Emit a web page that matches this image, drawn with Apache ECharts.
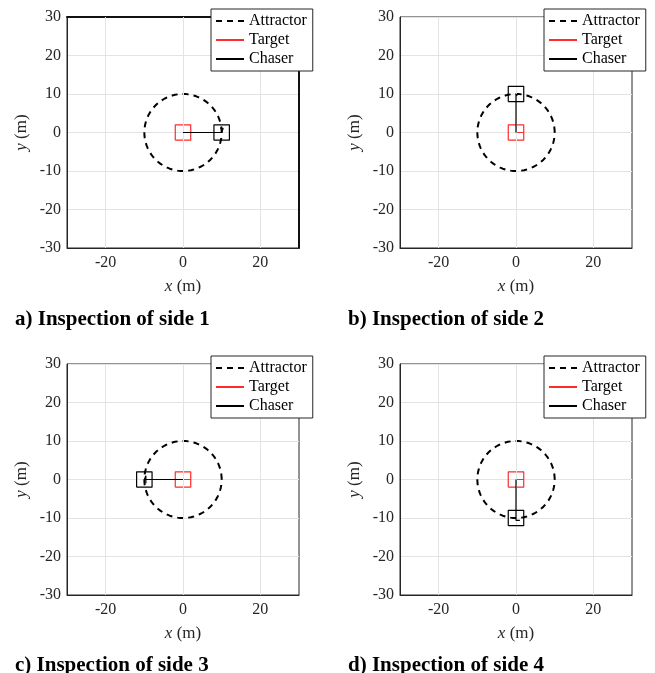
<!DOCTYPE html>
<html>
<head>
<meta charset="utf-8">
<script src="https://cdn.jsdelivr.net/npm/echarts@6/dist/echarts.min.js"></script>
<style>
  html, body { margin: 0; padding: 0; background: #fff; }
  #chart { width: 655px; height: 673px; }
</style>
</head>
<body>
<div id="chart"></div>
<script>
// Axis range and tick values (metres)
const axisMin = -30;
const axisMax = 30;
const xTickValues = [-20, 0, 20];
const yTickValues = [-30, -20, -10, 0, 10, 20, 30];

// Attractor circle radius and spacecraft body half-width (metres)
const attractorRadius = 10;
const bodyHalfWidth = 2;

// Target position and its heading marker
const targetPosition = [0, 0];
const targetHeading = [[0, 0], [2, 0]];

// Chaser hold positions, one per inspected side
const chaserPositions = [[10, 0], [0, 10], [-10, 0], [0, -10]];

// Chaser trajectories (approach from target centre out to the hold point)
const chaserPaths = [
  [[0, 0], [10, 0], [10.4, 0], [10.4, 1.1], [9.6, 1.1]],
  [[0, 0], [0, 10], [0.3, 10], [0.3, 9.5]],
  [[0, 0], [-10, 0], [-9.6, 0], [-9.6, 1], [-9.6, -1]],
  [[0, 0], [0, -10], [0, -10.6], [1, -10.6]]
];

const captions = [
  'a) Inspection of side 1',
  'b) Inspection of side 2',
  'c) Inspection of side 3',
  'd) Inspection of side 4'
];

const legendNames = ['Attractor', 'Target', 'Chaser'];

// Panel placement
const panels = [
  { left: 67, top: 17 },
  { left: 400, top: 17 },
  { left: 67, top: 364 },
  { left: 400, top: 364 }
];
const plotW = 232, plotH = 231;

function squareOutline(center, half) {
  const [cx, cy] = center;
  return [
    [cx - half, cy - half], [cx + half, cy - half],
    [cx + half, cy + half], [cx - half, cy + half],
    [cx - half, cy - half]
  ];
}

function circlePoints(r, n) {
  const pts = [];
  for (let i = 0; i <= n; i++) {
    const t = (i / n) * 2 * Math.PI;
    pts.push([r * Math.cos(t), r * Math.sin(t)]);
  }
  return pts;
}

const font = 'Liberation Serif';
const textColor = '#262626';
const targetRed = '#ff2a2a';

const grid = [], xAxis = [], yAxis = [], series = [], legend = [], graphic = [];

panels.forEach((p, i) => {
  grid.push({
    left: p.left, top: p.top, width: plotW, height: plotH,
    show: true, borderColor: '#262626', borderWidth: 1,
    backgroundColor: 'transparent', containLabel: false
  });

  xAxis.push({
    type: 'value', gridIndex: i, min: axisMin, max: axisMax, interval: 10,
    axisLine: { show: true, onZero: false, lineStyle: { color: '#262626', width: 1 } },
    axisTick: { show: false },
    splitLine: { show: false },
    axisLabel: {
      margin: 7, color: textColor, fontFamily: font, fontSize: 16,
      formatter: v => (xTickValues.indexOf(v) >= 0 ? String(v) : '')
    },
    name: '{i|x} (m)', nameLocation: 'middle', nameGap: 30,
    nameTextStyle: {
      color: textColor, fontFamily: font, fontSize: 17,
      rich: { i: { fontStyle: 'italic', fontFamily: font, fontSize: 17, color: textColor } }
    }
  });

  yAxis.push({
    type: 'value', gridIndex: i, min: axisMin, max: axisMax, interval: 10,
    axisLine: { show: true, onZero: false, lineStyle: { color: '#262626', width: 1 } },
    axisTick: { show: false },
    splitLine: { show: true, lineStyle: { color: '#e3e3e3', width: 1 } },
    axisLabel: {
      margin: 6, color: textColor, fontFamily: font, fontSize: 16,
      formatter: v => (yTickValues.indexOf(v) >= 0 ? String(v) : '')
    },
    name: '{i|y} (m)', nameLocation: 'middle', nameGap: 37, nameRotate: 90,
    nameTextStyle: {
      color: textColor, fontFamily: font, fontSize: 17,
      rich: { i: { fontStyle: 'italic', fontFamily: font, fontSize: 17, color: textColor } }
    }
  });

  // Vertical grid lines at the labelled x ticks only
  series.push({
    type: 'line', name: 'xgrid', xAxisIndex: i, yAxisIndex: i, data: [],
    silent: true, z: 0,
    markLine: {
      silent: true, symbol: 'none', label: { show: false },
      lineStyle: { color: '#e3e3e3', width: 1, type: 'solid' },
      data: xTickValues.map(v => ({ xAxis: v }))
    }
  });

  series.push({
    type: 'line', name: 'Attractor', xAxisIndex: i, yAxisIndex: i,
    data: circlePoints(attractorRadius, 180), symbol: 'none', silent: true,
    itemStyle: { color: '#000' },
    lineStyle: { color: '#000', width: 2, type: [6, 5] }, z: 3
  });

  series.push({
    type: 'line', name: 'Target', xAxisIndex: i, yAxisIndex: i,
    data: squareOutline(targetPosition, bodyHalfWidth), symbol: 'none', silent: true,
    itemStyle: { color: targetRed },
    lineStyle: { color: targetRed, width: 1.2 }, z: 4
  });
  series.push({
    type: 'line', name: 'Target', xAxisIndex: i, yAxisIndex: i,
    data: targetHeading, symbol: 'none', silent: true,
    itemStyle: { color: targetRed },
    lineStyle: { color: targetRed, width: 1.2 }, z: 4
  });

  series.push({
    type: 'line', name: 'Chaser', xAxisIndex: i, yAxisIndex: i,
    data: chaserPaths[i], symbol: 'none', silent: true,
    itemStyle: { color: '#000' },
    lineStyle: { color: '#000', width: 1.2 }, z: 5
  });
  series.push({
    type: 'line', name: 'Chaser', xAxisIndex: i, yAxisIndex: i,
    data: squareOutline(chaserPositions[i], bodyHalfWidth), symbol: 'none', silent: true,
    itemStyle: { color: '#000' },
    lineStyle: { color: '#000', width: 1.2 }, z: 5
  });

  legend.push({
    data: legendNames, orient: 'vertical',
    left: p.left + 144, top: p.top - 8,
    itemWidth: 28, itemHeight: 14, itemGap: 3, padding: [4, 6, 4, 4],
    backgroundColor: '#fff', borderColor: '#262626', borderWidth: 1,
    itemStyle: { opacity: 0 },
    textStyle: { color: '#000', fontFamily: font, fontSize: 16 },
    selectedMode: false, z: 10
  });

  const col = i % 2, row = Math.floor(i / 2);
  graphic.push({
    type: 'text', left: col === 0 ? 15 : 348, top: row === 0 ? 309 : 655,
    style: { text: captions[i], font: 'bold 21px "Liberation Serif"', fill: '#000' }
  });
});

// Heavier frame on the top and right edges of the first panel
xAxis.push({
  type: 'value', gridIndex: 0, position: 'top', min: axisMin, max: axisMax,
  axisLine: { show: true, onZero: false, lineStyle: { color: '#111', width: 2 } },
  axisTick: { show: false }, axisLabel: { show: false }, splitLine: { show: false }
});
yAxis.push({
  type: 'value', gridIndex: 0, position: 'right', min: axisMin, max: axisMax,
  axisLine: { show: true, onZero: false, lineStyle: { color: '#111', width: 2 } },
  axisTick: { show: false }, axisLabel: { show: false }, splitLine: { show: false }
});

const chart = echarts.init(document.getElementById('chart'), null, { renderer: 'canvas' });
chart.setOption({
  animation: false,
  backgroundColor: '#fff',
  grid, xAxis, yAxis, series, legend, graphic
});
</script>
</body>
</html>
